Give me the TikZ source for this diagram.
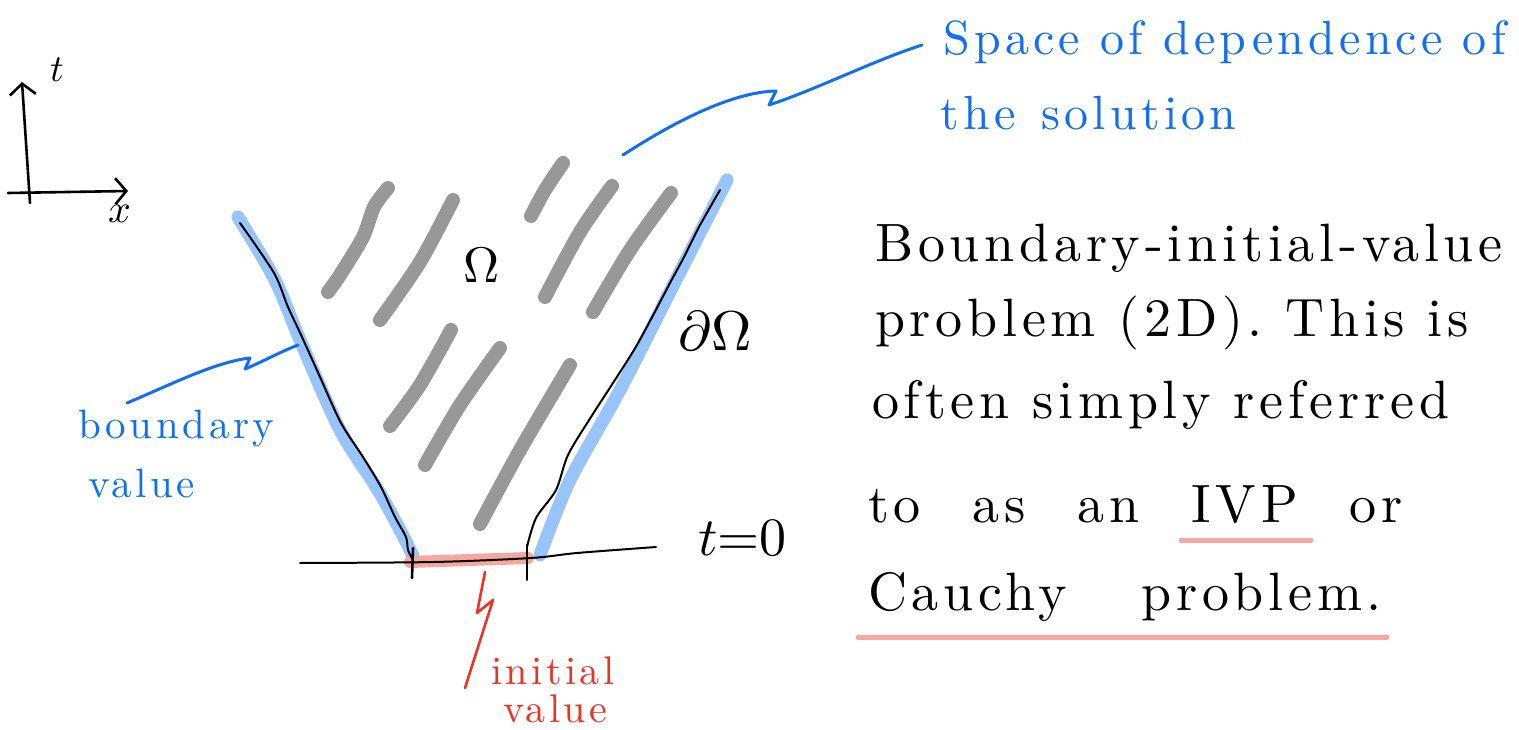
\documentclass[tikz,border=0pt]{standalone}
\usepackage{fontspec}
\usepackage{unicode-math}
\newfontfamily\handfont{lmroman10-regular.otf}[LetterSpace=8.8]
\usetikzlibrary{arrows.meta}
\definecolor{inkblue}{RGB}{18,112,240}
\definecolor{haloblue}{RGB}{152,196,250}
\definecolor{inkred}{RGB}{236,52,36}
\definecolor{hlpink}{RGB}{245,168,160}
\definecolor{pencil}{RGB}{152,152,152}
\tikzset{
  grayband/.style={pencil, line width=14pt, line cap=round, line join=round},
  halo/.style={haloblue, line width=13pt, line cap=round, line join=round},
  pinkband/.style={hlpink, line width=12pt, line cap=round},
  ink/.style={black, line width=2.6pt, line cap=round, line join=round},
  thinink/.style={black, line width=2pt, line cap=round, line join=round},
  blueink/.style={inkblue, line width=3pt, line cap=round, line join=round},
  redink/.style={inkred, line width=2.6pt, line cap=round, line join=round},
  underl/.style={hlpink, line width=5pt, line cap=round},
  barb/.style={-{Straight Barb[length=11pt,width=26pt,line width=2.6pt]}},
  bigtext/.style={font=\handfont\fontsize{54}{62}\selectfont, inner sep=0pt, anchor=base west},
  bluetext/.style={font=\handfont\fontsize{48}{56}\selectfont, text=inkblue, inner sep=0pt, anchor=base west},
  smallblue/.style={font=\handfont\fontsize{41}{47}\selectfont, text=inkblue, inner sep=0pt, anchor=base west},
  smallred/.style={font=\handfont\fontsize{40}{46}\selectfont, text=inkred, inner sep=0pt, anchor=base west},
  lbl/.style={inner sep=0pt}
}
\begin{document}
\begin{tikzpicture}[x=1pt,y=-1pt]
\useasboundingbox[fill=white] (0,0) rectangle (1519,730);

% axes
\coordinate (o) at (30,203);
\coordinate (ttip) at (22,82);
\coordinate (xs) at (8,193);
\coordinate (xtip) at (128,191);
\draw[ink, barb] (o) -- (ttip);
\draw[ink, barb] (xs) -- (xtip);
\node[lbl, font=\fontsize{38}{40}\selectfont] (tax) at (57,70) {$t$};
\node[lbl, font=\fontsize{40}{42}\selectfont] (xax) at (120,214) {$x$};

% shaded interior strokes
\draw[grayband] plot[smooth] coordinates {(388,188) (374,207) (363,237) (340,275) (328,292)};
\draw[grayband] plot[smooth] coordinates {(453,200) (420,262) (380,320)};
\draw[grayband] plot[smooth] coordinates {(563,163) (545,190) (531,216)};
\draw[grayband] plot[smooth] coordinates {(612,186) (580,232) (545,297)};
\draw[grayband] plot[smooth] coordinates {(671,193) (630,250) (593,312)};
\draw[grayband] plot[smooth] coordinates {(451,330) (420,385) (390,426)};
\draw[grayband] plot[smooth] coordinates {(500,348) (460,405) (425,465)};
\draw[grayband] plot[smooth] coordinates {(570,365) (520,450) (480,524)};

% boundary halos
\draw[halo] plot[smooth] coordinates {(238,217) (275,280) (300,340) (340,430) (378,490) (400,530) (413,556)};
\draw[halo] plot[smooth] coordinates {(727,180) (680,272) (620,390) (570,480) (540,555)};
% initial value band
\draw[pinkband] (410,562) -- (528,558);

% boundary lines
\draw[thinink] plot[smooth] coordinates {(240,223) (274,273) (288,307) (302,337) (320,377) (341,423) (363,457) (381,487) (395,517) (406,537) (408,550) (413,560)};
\draw[thinink] plot[smooth] coordinates {(720,190) (699,227) (684,257) (670,283) (649,323) (634,350) (613,383) (591,417) (568,455) (556,490) (536,518) (527,547)};

% t=0 line and ticks
\draw[thinink] plot[smooth] coordinates {(300,563) (434,562) (531,558) (577,553) (656,547)};
\coordinate (lt1) at (413,548); \coordinate (lt2) at (412,578);
\coordinate (rt1) at (527,545); \coordinate (rt2) at (527,580);
\draw[ink] (lt1) -- (lt2);
\draw[thinink] (rt1) -- (rt2);

% labels in the drawing
\node[lbl, font=\fontsize{50}{54}\selectfont] (om) at (482,265) {$\Omega$};
\node[lbl, font=\fontsize{56}{60}\selectfont] (dom) at (715,331) {$\partial\Omega$};
\node[lbl, font=\fontsize{54}{58}\selectfont, anchor=base west] (t0) at (698,555) {$t{=}0$};

% blue annotation: space of dependence
\node[bluetext] (sd1) at (943,55) {Space of dependence of};
\node[bluetext] (sd2) at (940,130) {\spaceskip=26pt the solution};
\coordinate (sdtail) at (623,155);
\coordinate (sdhead) at (922,45);
\draw[blueink] (sdtail) .. controls (680,118) and (735,92) .. (776,91) -- (769,105) .. controls (820,88) and (870,62) .. (sdhead);

% blue annotation: boundary value
\node[smallblue] (bv1) at (78,438) {boundary};
\node[smallblue] (bv2) at (88,497) {value};
\coordinate (bvtail) at (127,403);
\coordinate (bvhead) at (298,345);
\draw[blueink] (bvtail) .. controls (170,385) and (215,362) .. (250,358) -- (245,369) .. controls (262,362) and (280,352) .. (bvhead);

% red annotation: initial value
\node[smallred] (iv1) at (491,684) {initial};
\node[smallred] (iv2) at (503,722) {value};
\coordinate (ivtop) at (485,572);
\coordinate (ivbot) at (465,688);
\draw[redink] (ivtop) -- (477,613) -- (493,600) -- (ivbot);

% explanatory text
\node[bigtext] (l1) at (875,262) {Boundary-initial-value};
\node[bigtext] (l2) at (875,337) {problem (2D). This is};
\node[bigtext] (l3) at (872,418) {often simply referred};
\node[bigtext] (l4) at (868,522) {\spaceskip=52pt to as an IVP or};
\node[bigtext] (l5) at (868,610) {\spaceskip=74pt Cauchy problem.};
\coordinate (u1a) at (1181,540); \coordinate (u1b) at (1311,540);
\coordinate (u2a) at (858,637); \coordinate (u2b) at (1387,637);
\draw[underl] (u1a) -- (u1b);
\draw[underl] (u2a) -- (u2b);
\end{tikzpicture}
\end{document}
